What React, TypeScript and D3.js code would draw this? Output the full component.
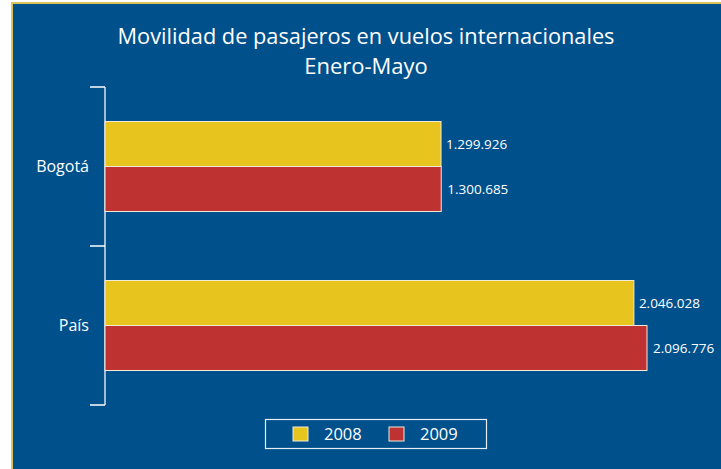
import React, { useEffect, useRef } from "react";
import * as d3 from "d3";

const categories = ["Bogotá", "País"];
const years = ["2008", "2009"];
const values2008 = [1299926, 2046028];
const values2009 = [1300685, 2096776];
const titleLines = ["Movilidad de pasajeros en vuelos internacionales", "Enero-Mayo"];

const colors: Record<string, string> = { "2008": "#e8c41f", "2009": "#be3331" };

function App() {
  const ref = useRef<SVGSVGElement>(null);

  useEffect(() => {
    const svg = d3.select(ref.current);
    svg.selectAll("*").remove();

    const width = 721,
      height = 469;

    // panel
    svg
      .append("rect")
      .attr("x", 12)
      .attr("y", 3)
      .attr("width", width)
      .attr("height", height)
      .attr("fill", "#00508c")
      .attr("stroke", "#d9c45e")
      .attr("stroke-width", 2);

    const font = "'Open Sans', 'Noto Sans', sans-serif";

    svg
      .selectAll("text.title")
      .data(titleLines)
      .enter()
      .append("text")
      .attr("class", "title")
      .attr("x", 366)
      .attr("y", (d, i) => 44 + i * 30)
      .attr("text-anchor", "middle")
      .attr("fill", "white")
      .attr("font-family", font)
      .attr("font-size", "22px")
      .attr("textLength", (d, i) => (i === 0 ? 497 : null))
      .attr("lengthAdjust", "spacingAndGlyphs")
      .text((d) => d);

    var x = d3.scaleLinear().domain([0, 2096776]).range([105, 647]);
    var y = d3.scaleBand().domain(categories).range([87, 405]);
    var y1 = d3
      .scaleBand()
      .domain(years)
      .range([0, y.bandwidth()])
      .paddingInner(0)
      .paddingOuter(0.767);

    const rows: { cat: string; year: string; value: number }[] = [];
    categories.forEach((c, i) => {
      rows.push({ cat: c, year: "2008", value: values2008[i] });
      rows.push({ cat: c, year: "2009", value: values2009[i] });
    });

    // axis
    const axis = svg.append("g");
    axis
      .append("line")
      .attr("x1", 105)
      .attr("x2", 105)
      .attr("y1", 87)
      .attr("y2", 405)
      .attr("stroke", "#d8e0ec")
      .attr("stroke-width", 1.5);
    const tickYs = categories.map((c) => y(c)!).concat([y.range()[1]]);
    axis
      .selectAll("line.tick")
      .data(tickYs)
      .enter()
      .append("line")
      .attr("class", "tick")
      .attr("x1", 90)
      .attr("x2", 105)
      .attr("y1", (d) => d)
      .attr("y2", (d) => d)
      .attr("stroke", "white")
      .attr("stroke-width", 1.5);

    axis
      .selectAll("text.cat")
      .data(categories)
      .enter()
      .append("text")
      .attr("class", "cat")
      .attr("x", 89)
      .attr("y", (d) => y(d)! + y.bandwidth() / 2)
      .attr("dy", "0.35em")
      .attr("text-anchor", "end")
      .attr("fill", "white")
      .attr("font-family", font)
      .attr("font-size", "16px")
      .text((d) => d);

    // bars
    svg
      .selectAll("rect.bar")
      .data(rows)
      .enter()
      .append("rect")
      .attr("class", "bar")
      .attr("x", x(0))
      .attr("y", (d) => y(d.cat)! + y1(d.year)!)
      .attr("width", (d) => x(d.value) - x(0))
      .attr("height", y1.bandwidth())
      .attr("fill", (d) => colors[d.year])
      .attr("stroke", "#f2ead8")
      .attr("stroke-width", 1);

    const format = (v: number) => d3.format(",")(v).replace(/,/g, ".");

    svg
      .selectAll("text.lbl")
      .data(rows)
      .enter()
      .append("text")
      .attr("class", "lbl")
      .attr("x", (d) => x(d.value) + (d.year === "2008" ? 5 : 6))
      .attr("y", (d) => y(d.cat)! + y1(d.year)! + y1.bandwidth() / 2)
      .attr("dy", "0.35em")
      .attr("fill", "white")
      .attr("font-family", font)
      .attr("font-size", "13.5px")
      .text((d) => format(d.value));

    // legend
    const legend = svg.append("g");
    legend
      .append("rect")
      .attr("x", 265.5)
      .attr("y", 419.5)
      .attr("width", 221)
      .attr("height", 29)
      .attr("fill", "none")
      .attr("stroke", "#e8eef6")
      .attr("stroke-width", 1.2);
    const items = legend
      .selectAll("g.item")
      .data(years)
      .enter()
      .append("g")
      .attr("class", "item")
      .attr("transform", (d, i) => "translate(" + (293 + i * 96) + ",427)");
    items
      .append("rect")
      .attr("width", 15)
      .attr("height", 14)
      .attr("fill", (d) => colors[d])
      .attr("stroke", "#f2ead8")
      .attr("stroke-width", 1);
    items
      .append("text")
      .attr("x", 31)
      .attr("y", 7)
      .attr("dy", "0.36em")
      .attr("fill", "white")
      .attr("font-family", font)
      .attr("font-size", "16.5px")
      .text((d) => d);
  }, []);

  return (
    <svg
      ref={ref}
      width={721}
      height={469}
      style={{ position: "absolute", left: 0, top: 0, display: "block" }}
    />
  );
}

export default App;
